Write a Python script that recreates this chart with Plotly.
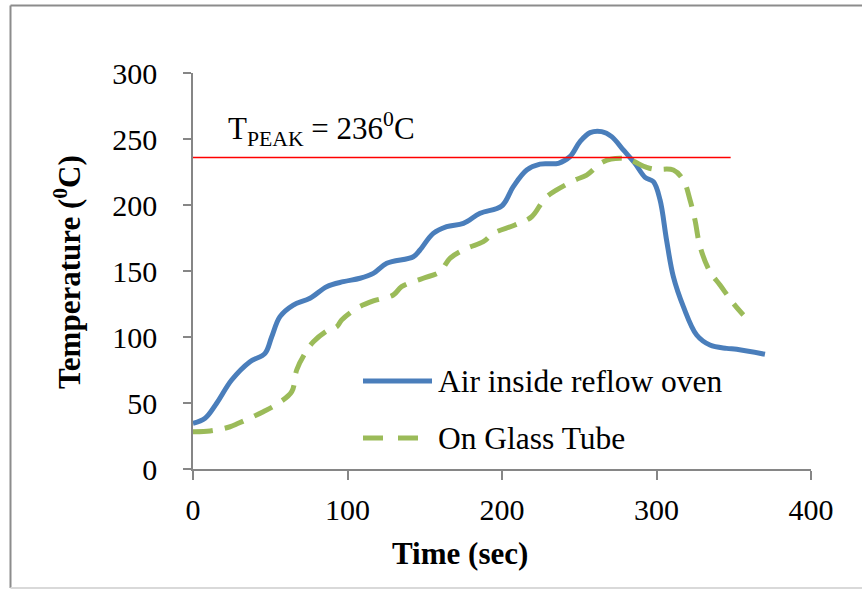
import plotly.graph_objects as go

# Reflow oven temperature profile: time (s) vs temperature (degC)
air_time = [0, 7.8, 15.3, 25, 36.9, 46.6, 50.9, 56.3, 64.9, 75.7, 86.5, 97.3, 108.1,
            116.7, 125.4, 142.6, 146.9, 155.5, 164.2, 175, 185.8, 199.8, 207.3, 216,
            224.6, 236.5, 244, 250.5, 257, 264.5, 271, 278.5, 286, 292.6, 298, 302.3,
            306.5, 310.9, 317.4, 326, 334.6, 345.4, 351.9, 370.2]
air_temp = [34.6, 38.4, 49.8, 67.4, 81.3, 87.6, 100, 115.4, 124.2, 129.3, 138.1, 141.9, 144.5,
            148.2, 155.8, 160.8, 165.9, 178.5, 183.6, 186.1, 193.7, 199.2, 213.9, 226.5,
            231, 231.6, 236.6, 248, 254.8, 255.6, 251.8, 241.7, 231.6, 221, 217.7, 203.8,
            173.5, 145.7, 123, 101.5, 93.9, 91.4, 90.7, 86.9]

tube_time = [0, 11, 24, 29.3, 45.5, 55.2, 63.9, 67.1, 72.5, 77.9, 87.6, 93, 96.2, 105.9,
             116.7, 129.6, 135, 149, 159.9, 166.3, 177.1, 187.9, 194.4, 208.4, 219.2,
             227.8, 235.4, 247.2, 254.8, 265.6, 276.4, 282.8, 293.6, 299, 310.9, 317.4,
             321.7, 324.9, 328.2, 334.6, 341.1, 349.7, 356.2]
tube_temp = [28.3, 28.8, 32, 34.6, 43.4, 49.8, 58.6, 75, 87.6, 96.4, 105.3, 107.8, 112.9, 121.7,
             127.3, 131.8, 138.1, 144.5, 149.5, 159.6, 167.2, 172.2, 178.5, 184.8, 191.1,
             205, 211.4, 218.9, 222.7, 232.8, 235.4, 234.1, 228.5, 227, 226.5, 218.9,
             203.8, 188.6, 168.4, 149.5, 139.4, 125.5, 116.7]

series_names = ["Air inside reflow oven", "On Glass Tube"]
T_PEAK = 236
peak_line_time = [0, 348]

x_ticks = [0, 100, 200, 300, 400]
y_ticks = [0, 50, 100, 150, 200, 250, 300]

BLUE = "#4A7EBB"
GREEN = "#9BBB59"
AXIS = "#868686"
FONT = "Liberation Serif"

W, H = 862, 589
ML, MR, MT, MB = 193, 51, 73, 120
PW, PH = W - ML - MR, H - MT - MB


def px(x):
    return (x - ML) / PW


def py(y):
    return (H - MB - y) / PH


fig = go.Figure()

fig.add_trace(go.Scatter(
    x=air_time, y=air_temp, mode="lines", name=series_names[0],
    line=dict(color=BLUE, width=5, shape="spline", smoothing=1.0),
    showlegend=False,
))
fig.add_trace(go.Scatter(
    x=tube_time, y=tube_temp, mode="lines", name=series_names[1],
    line=dict(color=GREEN, width=5, shape="spline", smoothing=1.0, dash="20px,12px"),
    showlegend=False,
))
fig.add_trace(go.Scatter(
    x=peak_line_time, y=[T_PEAK, T_PEAK], mode="lines",
    line=dict(color="#FF0000", width=1.5), showlegend=False, hoverinfo="skip",
))

shapes = [
    # outer chart frame
    dict(type="line", xref="paper", yref="paper", x0=px(10.5), x1=px(10.5),
         y0=py(5.5), y1=py(588), line=dict(color="#8c8c8c", width=2)),
    dict(type="line", xref="paper", yref="paper", x0=px(10.5), x1=px(870),
         y0=py(5.5), y1=py(5.5), line=dict(color="#8c8c8c", width=2)),
    dict(type="line", xref="paper", yref="paper", x0=px(10.5), x1=px(870),
         y0=py(588), y1=py(588), line=dict(color="#d9d9d9", width=2)),
    # legend keys
    dict(type="line", xref="paper", yref="paper", x0=px(363), x1=px(432),
         y0=py(381), y1=py(381), line=dict(color=BLUE, width=5)),
    dict(type="line", xref="paper", yref="paper", x0=px(363), x1=px(432),
         y0=py(438), y1=py(438), line=dict(color=GREEN, width=5, dash="20px,15px")),
]

annotations = [
    dict(xref="paper", yref="paper", x=px(436), y=py(381), xanchor="left", yanchor="middle",
         text=series_names[0], showarrow=False, font=dict(family=FONT, size=31.5, color="black")),
    dict(xref="paper", yref="paper", x=px(436), y=py(438), xanchor="left", yanchor="middle",
         text=series_names[1], showarrow=False, font=dict(family=FONT, size=31.5, color="black")),
    dict(xref="paper", yref="paper", x=px(226), y=py(129), xanchor="left", yanchor="middle",
         text=f"T<sub>PEAK</sub> = {T_PEAK}<sup>0</sup>C", showarrow=False,
         font=dict(family=FONT, size=31, color="black")),
    dict(xref="paper", yref="paper", x=px(460), y=py(553), xanchor="center", yanchor="middle",
         text="<b>Time (sec)</b>", showarrow=False,
         font=dict(family=FONT, size=31, color="black")),
    dict(xref="paper", yref="paper", x=px(67), y=py(272), xanchor="center", yanchor="middle",
         text="<b>Temperature (<sup>0</sup>C)</b>", textangle=-90, showarrow=False,
         font=dict(family=FONT, size=31, color="black")),
]

fig.update_layout(
    width=W, height=H,
    margin=dict(l=ML, r=MR, t=MT, b=MB),
    paper_bgcolor="white", plot_bgcolor="white",
    font=dict(family=FONT, size=30, color="black"),
    shapes=shapes, annotations=annotations,
    showlegend=False,
)
fig.update_xaxes(
    range=[0, 400], tickvals=x_ticks, ticktext=[str(v) for v in x_ticks],
    showline=True, linecolor=AXIS, linewidth=1.5, ticks="outside", ticklen=9,
    tickcolor=AXIS, tickwidth=1.5, showgrid=False, zeroline=False,
    tickfont=dict(family=FONT, size=30), ticklabelstandoff=4,
)
fig.update_yaxes(
    range=[0, 300], tickvals=y_ticks, ticktext=[str(v) for v in y_ticks],
    showline=True, linecolor=AXIS, linewidth=1.5, ticks="outside", ticklen=8,
    tickcolor=AXIS, tickwidth=1.5, showgrid=False, zeroline=False,
    tickfont=dict(family=FONT, size=30), ticklabelstandoff=20,
)

fig.write_html("out.html")
